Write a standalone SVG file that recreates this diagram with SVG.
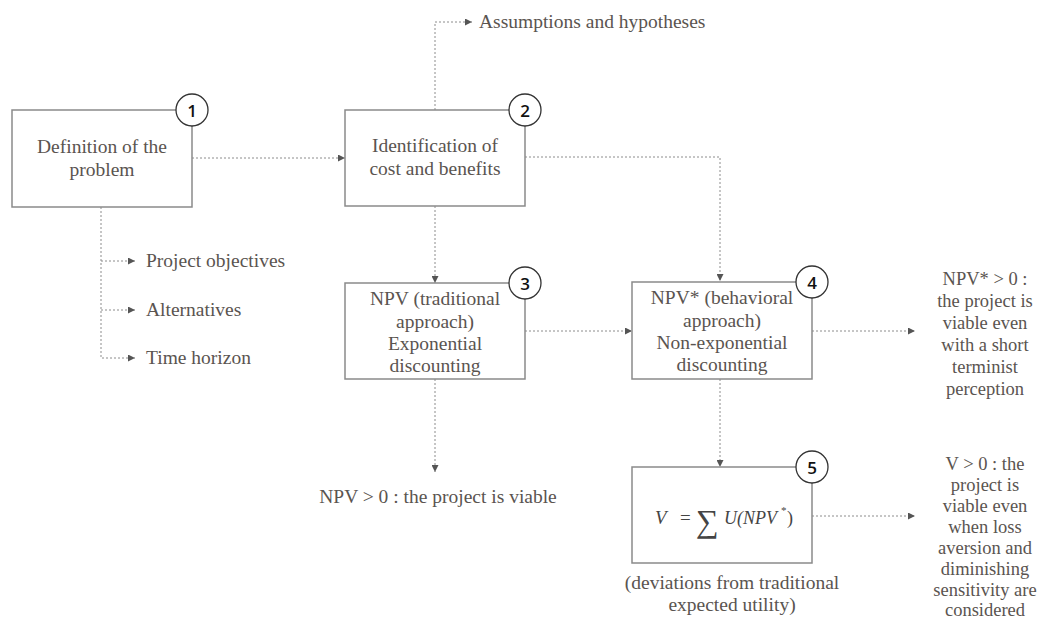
<svg xmlns="http://www.w3.org/2000/svg" width="1045" height="621" viewBox="0 0 1045 621">
  <defs>
    <marker id="arr" viewBox="0 0 10 10" refX="10" refY="5" markerWidth="7" markerHeight="7" markerUnits="userSpaceOnUse" orient="auto">
      <path d="M0,0 L10,5 L0,10 Z" fill="#555"/>
    </marker>
    <style>
      .box { fill: #fff; stroke: #8a8a8a; stroke-width: 1.5; }
      .num { fill: #fff; stroke: #333; stroke-width: 1.3; }
      .numt { font-family: "Open Sans", "Liberation Sans", sans-serif; font-size: 17px; font-weight: 600; fill: #111; text-anchor: middle; dominant-baseline: central; }
      .t { font-family: "Liberation Serif", "DejaVu Serif", serif; font-size: 19.5px; fill: #5a5450; }
      .s { font-size: 18.5px; }
      .c { text-anchor: middle; }
      .link { fill: none; stroke: #8c8c8c; stroke-width: 1; stroke-dasharray: 2 2; }
      .math { font-family: "Liberation Serif", "DejaVu Serif", serif; font-size: 19px; fill: #444; }
      .it { font-style: italic; }
    </style>
  </defs>

  <!-- connectors -->
  <g id="connectors">
    <path class="link" d="M192,158 H345" marker-end="url(#arr)"/>
    <path class="link" d="M435,110 V22 H472" marker-end="url(#arr)"/>
    <path class="link" d="M525,157 H720 V281" marker-end="url(#arr)"/>
    <path class="link" d="M435,206 V283" marker-end="url(#arr)"/>
    <path class="link" d="M525,331 H632" marker-end="url(#arr)"/>
    <path class="link" d="M812,331 H915" marker-end="url(#arr)"/>
    <path class="link" d="M720,379 V467" marker-end="url(#arr)"/>
    <path class="link" d="M812,516 H915" marker-end="url(#arr)"/>
    <path class="link" d="M435,379 V472" marker-end="url(#arr)"/>
    <path class="link" d="M101,207 V358 H135" marker-end="url(#arr)"/>
    <path class="link" d="M101,261 H135" marker-end="url(#arr)"/>
    <path class="link" d="M101,310 H135" marker-end="url(#arr)"/>
  </g>

  <!-- step 1 -->
  <g id="node1">
    <rect class="box" x="12" y="110" width="180" height="97"/>
    <text class="t c" x="102" y="153">Definition of the</text>
    <text class="t c" x="102" y="176">problem</text>
    <circle class="num" cx="192" cy="110" r="16"/>
    <text class="numt" x="192" y="110">1</text>
  </g>

  <!-- step 2 -->
  <g id="node2">
    <rect class="box" x="345" y="110" width="180" height="96"/>
    <text class="t c" x="435" y="152">Identification of</text>
    <text class="t c" x="435" y="175">cost and benefits</text>
    <circle class="num" cx="525" cy="110" r="16"/>
    <text class="numt" x="525" y="110">2</text>
  </g>

  <!-- step 3 -->
  <g id="node3">
    <rect class="box" x="345" y="283" width="180" height="96"/>
    <text class="t c" x="435" y="305">NPV (traditional</text>
    <text class="t c" x="435" y="328">approach)</text>
    <text class="t c" x="435" y="350">Exponential</text>
    <text class="t c" x="435" y="372">discounting</text>
    <circle class="num" cx="525" cy="283" r="16"/>
    <text class="numt" x="525" y="283">3</text>
  </g>

  <!-- step 4 -->
  <g id="node4">
    <rect class="box" x="632" y="282" width="180" height="97"/>
    <text class="t c" x="722" y="304">NPV* (behavioral</text>
    <text class="t c" x="722" y="327">approach)</text>
    <text class="t c" x="722" y="349">Non-exponential</text>
    <text class="t c" x="722" y="371">discounting</text>
    <circle class="num" cx="812" cy="282" r="16"/>
    <text class="numt" x="812" y="282">4</text>
  </g>

  <!-- step 5: value function V = sum U(NPV*) -->
  <g id="node5">
    <rect class="box" x="632" y="467" width="180" height="96"/>
    <text class="math it" x="655" y="524">V</text>
    <text class="math" x="680" y="524">=</text>
    <text class="math" x="696" y="532" style="font-size:32px">∑</text>
    <text class="math it" x="724" y="524" style="font-size:18px">U(NPV</text>
    <text class="math" x="781" y="514" style="font-size:11px">*</text>
    <text class="math" x="787" y="524" style="font-size:18px">)</text>
    <circle class="num" cx="812" cy="467" r="16"/>
    <text class="numt" x="812" y="467">5</text>
  </g>

  <!-- outputs and annotations -->
  <g id="labels">
    <text class="t" x="479" y="28">Assumptions and hypotheses</text>
    <text class="t" x="146" y="267">Project objectives</text>
    <text class="t" x="146" y="316">Alternatives</text>
    <text class="t" x="146" y="364">Time horizon</text>
    <text class="t c" x="438" y="503">NPV &gt; 0 : the project is viable</text>
    <text class="t c" x="732" y="589">(deviations from traditional</text>
    <text class="t c" x="732" y="611">expected utility)</text>
    <text class="t s c" x="985" y="285">NPV* &gt; 0 :</text>
    <text class="t s c" x="985" y="307">the project is</text>
    <text class="t s c" x="985" y="329">viable even</text>
    <text class="t s c" x="985" y="351">with a short</text>
    <text class="t s c" x="985" y="373">terminist</text>
    <text class="t s c" x="985" y="395">perception</text>
    <text class="t s c" x="985" y="470">V &gt; 0 : the</text>
    <text class="t s c" x="985" y="491">project is</text>
    <text class="t s c" x="985" y="512">viable even</text>
    <text class="t s c" x="985" y="533">when loss</text>
    <text class="t s c" x="985" y="554">aversion and</text>
    <text class="t s c" x="985" y="575">diminishing</text>
    <text class="t s c" x="985" y="596">sensitivity are</text>
    <text class="t s c" x="985" y="616">considered</text>
  </g>
</svg>
